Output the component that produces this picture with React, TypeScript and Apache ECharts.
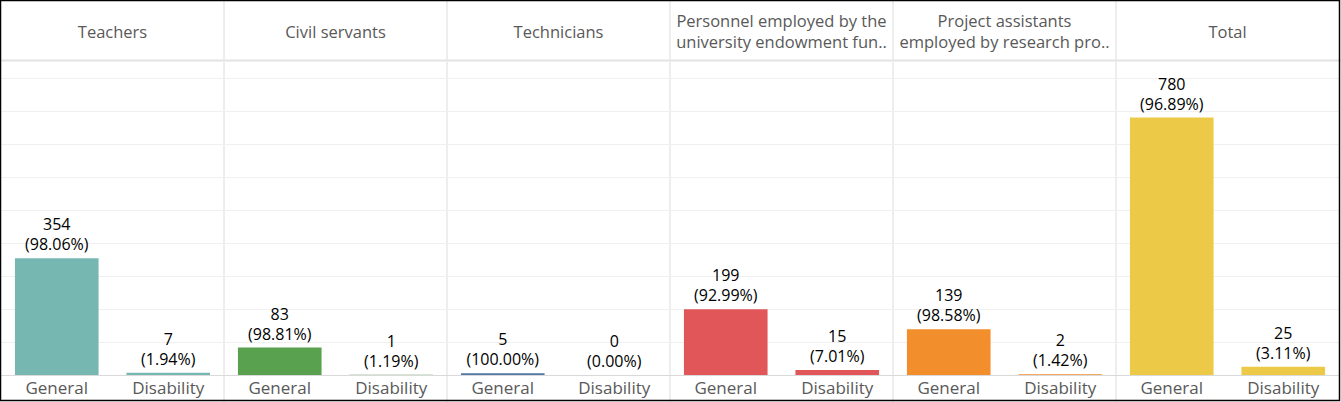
import React, { useEffect, useRef } from 'react'
import * as echarts from 'echarts'

// panel headers as shown in the picture
const panels = [
    'Teachers',
    'Civil servants',
    'Technicians',
    'Personnel employed by the\nuniversity endowment fun..',
    'Project assistants\nemployed by research pro..',
    'Total',
]
const categories = ['General', 'Disability']
const generalCounts = [354, 83, 5, 199, 139, 780]
const disabilityCounts = [7, 1, 0, 15, 2, 25]
const colors = ['#76B7B2', '#59A14F', '#4E79A7', '#E15759', '#F28E2B', '#EDC948']
const yTicks = [0, 100, 200, 300, 400, 500, 600, 700, 800, 900]

const W = 1341
const H = 402
const FONT = 'Open Sans'

const App: React.FC = () => {
    const chartRef = useRef<HTMLDivElement | null>(null)

    useEffect(() => {
        if (!chartRef.current) return
        const chart = echarts.init(chartRef.current, null, { renderer: 'svg' })

        const left0 = 1
        const panelW = (W - 3) / panels.length
        const top = 61.5
        const bottom = H - 375

        const grids: any[] = []
        const xAxes: any[] = []
        const yAxes: any[] = []
        const series: any[] = []
        const graphics: any[] = []

        panels.forEach((name, i) => {
            const x = left0 + i * panelW
            grids.push({ left: x, width: panelW, top, bottom, containLabel: false })
            xAxes.push({
                type: 'category',
                gridIndex: i,
                data: categories,
                axisLine: { lineStyle: { color: '#d9d9d9', width: 1 } },
                axisTick: { show: false },
                axisLabel: {
                    color: '#595959',
                    fontSize: 17,
                    fontFamily: FONT,
                    margin: 4,
                    interval: 0,
                },
            })
            yAxes.push({
                type: 'value',
                gridIndex: i,
                min: 0,
                max: 950,
                interval: yTicks[1] - yTicks[0],
                axisLabel: { show: false },
                axisLine: { show: false },
                axisTick: { show: false },
                splitLine: { lineStyle: { color: '#f0f0f0', width: 1 } },
            })
            const g = generalCounts[i]
            const d = disabilityCounts[i]
            const total = g + d
            const pct = (v: number) => (total ? (v / total) * 100 : 0).toFixed(2)
            series.push({
                type: 'bar',
                xAxisIndex: i,
                yAxisIndex: i,
                barCategoryGap: '25%',
                itemStyle: { color: colors[i] },
                label: {
                    show: true,
                    position: 'top',
                    distance: 4,
                    color: '#000',
                    fontSize: 16,
                    lineHeight: 20,
                    fontFamily: FONT,
                    formatter: (p: any) => `${p.value}\n(${pct(p.value)}%)`,
                },
                data: [g, d],
            })
            graphics.push({
                type: 'text',
                x: x + panelW / 2,
                y: 31,
                style: {
                    text: name,
                    fill: '#595959',
                    font: `16.5px "${FONT}"`,
                    lineHeight: 21,
                    align: 'center',
                    verticalAlign: 'middle',
                },
            })
            if (i > 0) {
                graphics.push({
                    type: 'line',
                    shape: { x1: x, y1: 0, x2: x, y2: H },
                    style: { stroke: '#dcdcdc', lineWidth: 1 },
                })
            }
        })

        // header separator
        graphics.push({
            type: 'line',
            shape: { x1: 0, y1: 60.5, x2: W, y2: 60.5 },
            style: { stroke: '#e3e3e3', lineWidth: 2 },
        })
        // outer frame
        graphics.push({
            type: 'rect',
            shape: { x: 0.5, y: 0.5, width: W - 2, height: H - 2 },
            style: { fill: 'none', stroke: '#000', lineWidth: 1.5 },
            z: 100,
        })

        chart.setOption({
            animation: false,
            backgroundColor: '#fff',
            grid: grids,
            xAxis: xAxes,
            yAxis: yAxes,
            series,
            graphic: graphics,
        })

        return () => {
            chart.dispose()
        }
    }, [])

    return (
        <div
            ref={chartRef}
            style={{ position: 'absolute', left: 0, top: 0, width: W + 'px', height: H + 'px' }}
        />
    )
}

export default App
